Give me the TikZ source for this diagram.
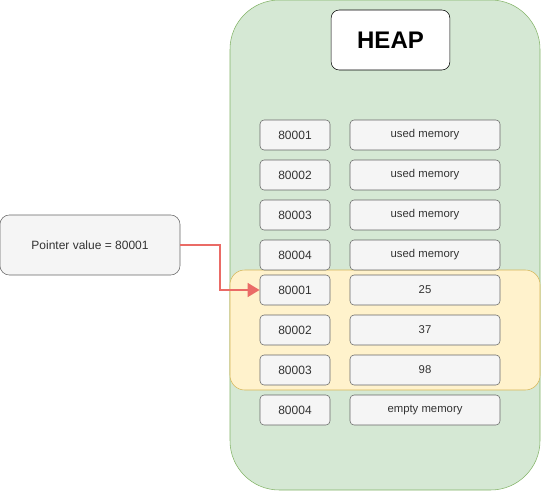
\documentclass[tikz,border=0pt]{standalone}
\usepackage{fontspec}
\setmainfont{Liberation Sans}
\usetikzlibrary{arrows.meta, positioning}
\definecolor{heapfill}{HTML}{D5E8D4}
\definecolor{heapdraw}{HTML}{82B366}
\definecolor{bandfill}{HTML}{FFF2CC}
\definecolor{banddraw}{HTML}{D6B656}
\definecolor{cellfill}{HTML}{F5F5F5}
\definecolor{celldraw}{HTML}{666666}
\definecolor{celltext}{HTML}{333333}
\definecolor{ptrred}{HTML}{EA6B66}
\tikzset{
    % Heap area - green rounded box
    heap area/.style={rectangle, draw=heapdraw, fill=heapfill, rounded corners=37pt,
        minimum width=232.5pt, minimum height=367.5pt, inner sep=0pt},
    % Allocated block - yellow band
    alloc band/.style={rectangle, draw=banddraw, fill=bandfill, rounded corners=11pt,
        minimum width=232.5pt, minimum height=90pt, inner sep=0pt},
    % Memory cells - gray rounded boxes
    addr cell/.style={rectangle, draw=celldraw, fill=cellfill, rounded corners=3pt,
        minimum width=52.5pt, minimum height=22.5pt, inner sep=0pt,
        text=celltext, font=\fontsize{9}{10}\selectfont},
    value cell/.style={addr cell, minimum width=112.5pt, font=\fontsize{8.5}{10}\selectfont},
    % Pointer box
    pointer box/.style={addr cell, rounded corners=7pt, minimum width=135pt, minimum height=45pt},
    % Title box
    title box/.style={rectangle, draw=black, fill=white, rounded corners=6pt,
        minimum width=89pt, minimum height=45pt, font=\fontsize{18}{20}\selectfont\bfseries},
    % Pointer arrow
    pointer arrow/.style={draw=ptrred, line width=2.2pt, -{Triangle[length=9pt, width=10pt]}}
}
\begin{document}
\begin{tikzpicture}[x=0.75pt, y=-0.75pt]
    \useasboundingbox (0,0) rectangle (541,491);

    % --- Heap and allocated block ---
    \node[heap area] (heap) at (385,245) {};
    \node[alloc band] (band) at (385,330) {};
    \node[title box] (title) at (390.5,40) {HEAP};

    % --- Addresses ---
    \node[addr cell] (a1) at (295,135) {80001};
    \node[addr cell] (a2) at (295,175) {80002};
    \node[addr cell] (a3) at (295,215) {80003};
    \node[addr cell] (a4) at (295,255) {80004};
    \node[addr cell] (a5) at (295,290) {80001};
    \node[addr cell] (a6) at (295,330) {80002};
    \node[addr cell] (a7) at (295,370) {80003};
    \node[addr cell] (a8) at (295,410) {80004};

    % --- Contents ---
    \node[value cell] (v1) at (425,135) {used memory};
    \node[value cell] (v2) at (425,175) {used memory};
    \node[value cell] (v3) at (425,215) {used memory};
    \node[value cell] (v4) at (425,255) {used memory};
    \node[value cell] (v5) at (425,290) {25};
    \node[value cell] (v6) at (425,330) {37};
    \node[value cell] (v7) at (425,370) {98};
    \node[value cell] (v8) at (425,410) {empty memory};

    % --- Pointer ---
    \node[pointer box] (ptr) at (90,245) {Pointer value = 80001};
    \coordinate (bend) at (220,245);
    \draw[pointer arrow] (ptr.east) -- (bend) |- (a5.west);
\end{tikzpicture}
\end{document}
